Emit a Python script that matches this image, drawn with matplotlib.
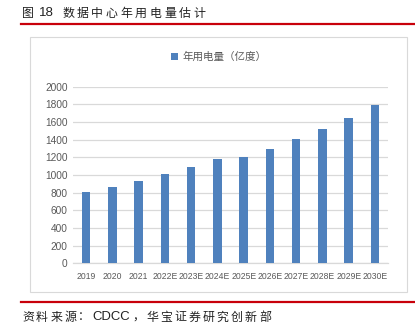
import matplotlib
matplotlib.use('Agg')
import matplotlib.pyplot as plt
from matplotlib.patches import Rectangle
from matplotlib.lines import Line2D

# data
years = ['2019', '2020', '2021', '2022E', '2023E', '2024E',
         '2025E', '2026E', '2027E', '2028E', '2029E', '2030E']
usage = [805, 865, 930, 1010, 1095, 1185, 1200, 1295, 1410, 1525, 1650, 1795]
yticks = [0, 200, 400, 600, 800, 1000, 1200, 1400, 1600, 1800, 2000]
series_name = '年用电量（亿度）'
fig_no = ['图', '18']
title = '数据中心年用电量估计'
source = '资料来源：CDCC，华宝证券研究创新部'

W, H = 415, 332
CJK = ['Noto Sans CJK SC', 'DejaVu Sans']
GRID = '#D9D9D9'
LABEL = '#595959'
BAR = '#4F81BD'
RED = '#C8000A'
INK = '#222222'


def fx(px):
	return px / W


def fy(py):
	return 1 - py / H


fig = plt.figure(figsize=(W / 100, H / 100), dpi=100)
renderer = fig.canvas.get_renderer()


def spaced_text(x, y, s, size, track):
	'''
	Writes s one CJK character at a time (wide tracking of the original);
	runs of latin letters go in one piece, in an Arial-like face
	'''
	i = 0
	while i < len(s):
		if s[i].isascii():
			j = i
			while j < len(s) and s[j].isascii():
				j += 1
			t = fig.text(fx(x), fy(y), s[i:j], family='Liberation Sans',
				fontsize=size * 1.1, va='center', ha='left', color=INK)
			x += t.get_window_extent(renderer).width + track
			i = j
			continue
		t = fig.text(fx(x), fy(y), s[i], family=CJK, fontsize=size, weight='light',
			va='center', ha='left', color=INK)
		x += t.get_window_extent(renderer).width + track
		i += 1
	return x


# header / footer decorations
fig.text(fx(22), fy(13), fig_no[0], family=CJK, fontsize=8.6, weight='light',
	va='center', ha='left', color=INK)
fig.text(fx(39), fy(13), fig_no[1], family='Liberation Sans', fontsize=9.5,
	va='center', ha='left', color=INK)
spaced_text(62, 13, title, 8.6, 2.7)
fig.add_artist(Line2D([fx(21), fx(415)], [fy(24), fy(24)], color=RED, lw=1.6))
fig.add_artist(Line2D([fx(21), fx(415)], [fy(302), fy(302)], color=RED, lw=1.6))
spaced_text(22, 317, source, 8.6, 2.2)

# chart frame
fig.add_artist(Rectangle((fx(29.5), fy(292)), fx(407) - fx(29.5), fy(36.5) - fy(292),
	transform=fig.transFigure, fill=False, edgecolor=GRID, lw=0.8))

left, right, top, bottom = 73, 388, 86.7, 263.3
ax = fig.add_axes([fx(left), fy(bottom), fx(right - left), fy(top) - fy(bottom)])
ax.bar(range(len(years)), usage, width=0.33, color=BAR, label=series_name, zorder=3)
ax.set_xlim(-0.5, len(years) - 0.5)
ax.set_ylim(0, 2000)
ax.set_yticks(yticks)
ax.set_xticks(range(len(years)))
ax.set_xticklabels(years, fontsize=6.2, color=LABEL, family='Liberation Sans')
ax.set_yticklabels([str(v) for v in yticks], fontsize=7.3, color=LABEL,
	family='Liberation Sans')
ax.tick_params(length=0, pad=4)
ax.tick_params(axis='x', pad=6)
ax.yaxis.grid(True, color=GRID, lw=0.9, zorder=0)
for side in ['top', 'right', 'left']:
	ax.spines[side].set_visible(False)
ax.spines['bottom'].set_color(GRID)
ax.spines['bottom'].set_linewidth(0.9)

leg = fig.legend(loc='center', bbox_to_anchor=(fx(219), fy(57)), frameon=False,
	prop={'family': CJK, 'size': 7.6}, handlelength=0.6, handleheight=0.6,
	handletextpad=0.5, borderpad=0)
for t in leg.get_texts():
	t.set_color(LABEL)

fig.savefig('out.png', dpi=100)
